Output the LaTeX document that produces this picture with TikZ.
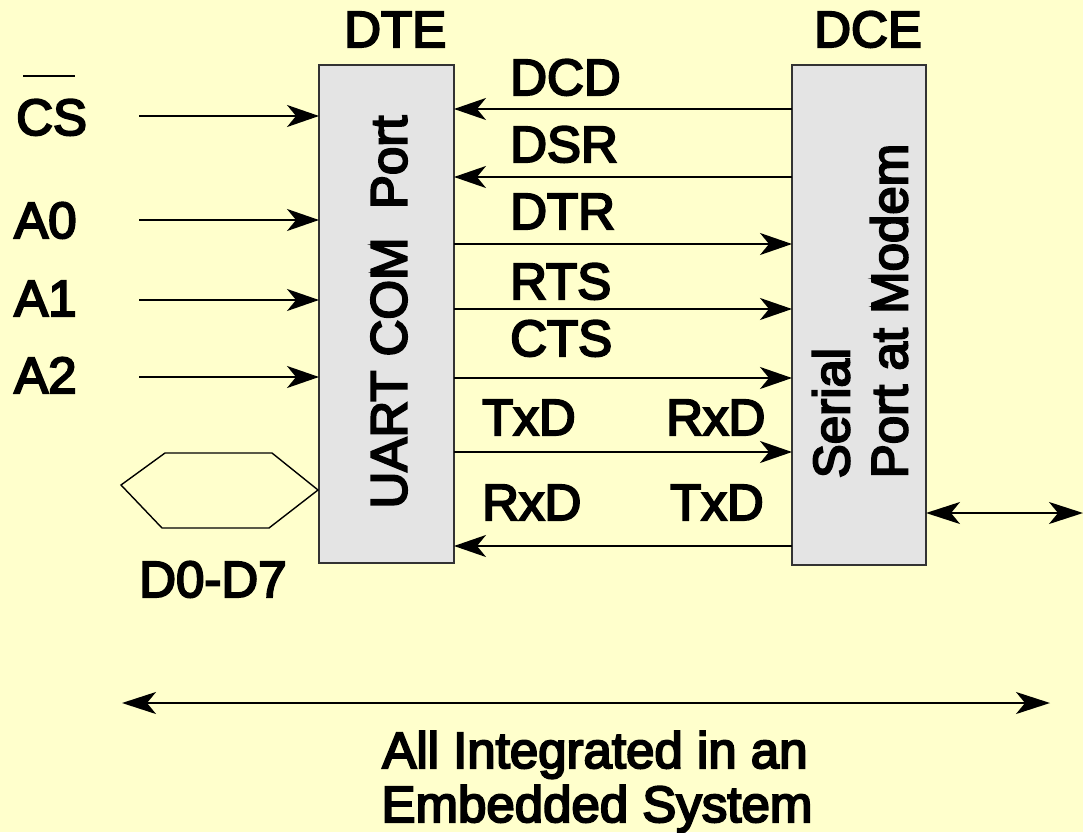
\documentclass[tikz,border=0pt]{standalone}
\usepackage{fontspec}
\setmainfont{Liberation Sans}[FakeBold=4]
\usetikzlibrary{arrows.meta}
\definecolor{bg}{HTML}{FFFFCC}
\definecolor{boxfill}{HTML}{E4E4E4}
\definecolor{edgecol}{HTML}{333333}
\begin{document}
\begin{tikzpicture}[x=1pt,y=-1pt,
  lbl/.style={anchor=base west, inner sep=0pt, font=\fontsize{51}{58}\selectfont},
  clbl/.style={anchor=base, inner sep=0pt, font=\fontsize{51}{58}\selectfont},
  unit/.style={draw=edgecol, fill=boxfill, line width=1.5pt, inner sep=0pt, outer sep=0pt},
  vtext/.style={rotate=90, inner sep=0pt, align=left, font=\fontsize{51}{58}\selectfont},
  sig/.style={line width=2pt, -{Stealth[length=32pt,width=22pt,inset=9pt]}},
  both/.style={line width=2pt, {Stealth[length=34pt,width=22pt,inset=9pt]}-{Stealth[length=34pt,width=22pt,inset=9pt]}},
  thin/.style={line width=1.4pt, draw=black}
]
\fill[bg] (0,0) rectangle (1083,832);
\useasboundingbox (0,0) rectangle (1083,832);

% boxes
\node[unit, minimum width=135pt, minimum height=498pt] (dte) at (386.5,314) {};
\node[unit, minimum width=134pt, minimum height=500pt] (dce) at (859,315) {};
\node[vtext] (dtetxt) at (389,312) {UART COM\ \ Port};
\node[vtext] (dcetxt) at (860,311) {Serial\\Port at Modem};

% headings
\node[lbl] (dtelbl) at (344,47) {DTE};
\node[lbl] (dcelbl) at (814,47) {DCE};

% left labels
\node[lbl] (cslbl) at (16,135) {CS};
\node[lbl] (a0lbl) at (14,238) {A0};
\node[lbl] (a1lbl) at (14,316) {A1};
\node[lbl] (a2lbl) at (14,393) {A2};
\node[lbl] (dlbl) at (139,597) {D0-D7};
\draw[thin] (23,76) -- (75,76);

% left inputs
\coordinate (cs0) at (139,116);
\coordinate (a00) at (139,220);
\coordinate (a10) at (139,300);
\coordinate (a20) at (139,377);
\draw[sig] (cs0) -- (cs0 -| dte.west);
\draw[sig] (a00) -- (a00 -| dte.west);
\draw[sig] (a10) -- (a10 -| dte.west);
\draw[sig] (a20) -- (a20 -| dte.west);

% data bus hexagon
\draw[thin] (121,485) -- (165,453) -- (272,453) -- (318,490) -- (269,528) -- (162,528) -- cycle;

% signal labels
\node[lbl] (dcdlbl) at (510,95) {DCD};
\node[lbl] (dsrlbl) at (510,162) {DSR};
\node[lbl] (dtrlbl) at (510,229) {DTR};
\node[lbl] (rtslbl) at (510,299) {RTS};
\node[lbl] (ctslbl) at (510,356) {CTS};
\node[lbl] (txd1) at (482,435) {TxD};
\node[lbl] (rxd1) at (666,435) {RxD};
\node[lbl] (rxd2) at (482,520) {RxD};
\node[lbl] (txd2) at (670,520) {TxD};

% signal lines
\coordinate (ydcd) at (600,109);
\coordinate (ydsr) at (600,177);
\coordinate (ydtr) at (600,244);
\coordinate (yrts) at (600,309);
\coordinate (ycts) at (600,378);
\coordinate (ytx) at (600,452);
\coordinate (yrx) at (600,546);
\draw[sig] (ydcd -| dce.west) -- (ydcd -| dte.east);
\draw[sig] (ydsr -| dce.west) -- (ydsr -| dte.east);
\draw[sig] (ydtr -| dte.east) -- (ydtr -| dce.west);
\draw[sig] (yrts -| dte.east) -- (yrts -| dce.west);
\draw[sig] (ycts -| dte.east) -- (ycts -| dce.west);
\draw[sig] (ytx -| dte.east) -- (ytx -| dce.west);
\draw[sig] (yrx -| dce.west) -- (yrx -| dte.east);

% external link
\coordinate (ext) at (1083,513);
\draw[both] (ext -| dce.east) -- (ext);

% bottom span
\coordinate (spanL) at (122,703);
\coordinate (spanR) at (1050,703);
\draw[both] (spanL) -- (spanR);
\node[clbl] (cap1) at (595,768) {All Integrated in an};
\node[clbl] (cap2) at (597,822) {Embedded System};
\end{tikzpicture}
\end{document}
